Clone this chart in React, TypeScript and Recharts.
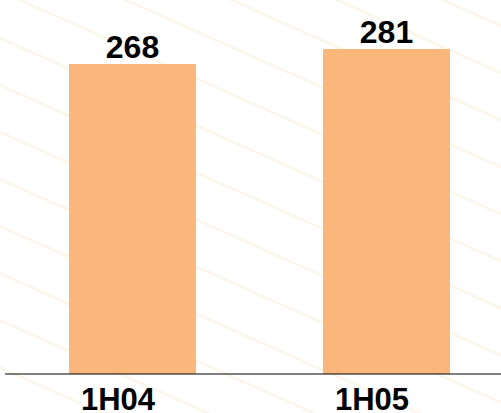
import React from 'react'
import { BarChart, Bar, XAxis, YAxis, LabelList } from 'recharts'

const periods = ['1H04', '1H05']
const values = [268, 281]

const chartData = periods.map((name, i) => ({ name, value: values[i] }))

export default function App() {
  return (
    <div
      style={{
        position: 'absolute',
        left: 0,
        top: 0,
        width: 501,
        height: 413,
        overflow: 'hidden',
        background:
          'repeating-linear-gradient(24deg, rgba(255,255,255,0) 0px, rgba(255,255,255,0) 40px, rgba(248,238,216,0.45) 40px, rgba(248,238,216,0.45) 43px), #ffffff',
      }}
    >
      <BarChart
        width={513}
        height={413}
        data={chartData}
        margin={{ top: 27, right: 0, left: 5, bottom: 0 }}
        style={{ fontFamily: '"Liberation Sans", Arial, sans-serif' }}
      >
        <YAxis hide domain={[0, 300]} />
        <XAxis
          dataKey="name"
          height={39}
          axisLine={{ stroke: '#000', strokeWidth: 1 }}
          tickLine={false}
          tick={{ fill: '#000', fontSize: 31, fontWeight: 'bold' }}
          dx={-14}
          dy={6}
          interval={0}
        />
        <Bar dataKey="value" fill="#F9B77B" barSize={127} isAnimationActive={false}>
          <LabelList
            dataKey="value"
            position="top"
            offset={6}
            style={{ fill: '#000', fontSize: 32, fontWeight: 'bold' }}
          />
        </Bar>
      </BarChart>
    </div>
  )
}
